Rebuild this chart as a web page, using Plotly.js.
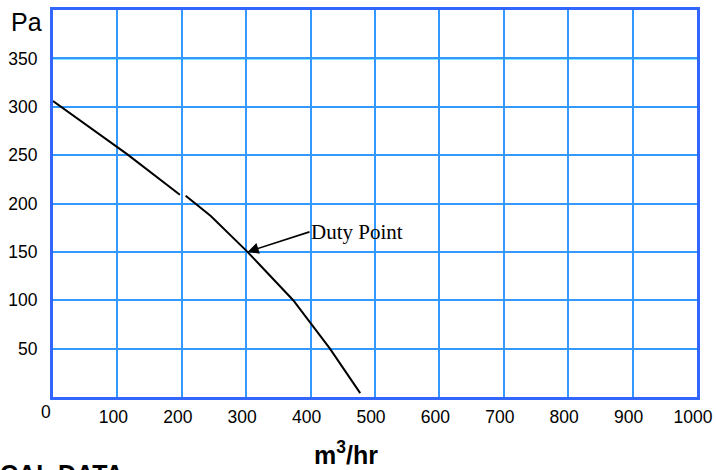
<!DOCTYPE html>
<html>
<head>
<meta charset="utf-8">
<script src="https://cdn.plot.ly/plotly-3.0.1.min.js"></script>
<style>html,body{margin:0;padding:0;background:#fff;}#chart{width:716px;height:470px;}</style>
</head>
<body>
<div id="chart"></div>
<script>
// Fan curve data (m3/hr vs Pa)
const flowA = [0, 115, 197];
const pressureA = [306, 251, 209];
const flowB = [206, 245, 302, 373, 430, 477];
const pressureB = [208, 187, 150, 100, 50, 4];
const dutyFlow = 302;
const dutyPressure = 150;
const xTicks = [100, 200, 300, 400, 500, 600, 700, 800, 900, 1000];
const yTicks = [50, 100, 150, 200, 250, 300, 350];

const lineStyle = {color: '#000000', width: 2};
const traces = [
  {x: flowA, y: pressureA, mode: 'lines', line: lineStyle, hoverinfo: 'skip', showlegend: false},
  {x: flowB, y: pressureB, mode: 'lines', line: lineStyle, hoverinfo: 'skip', showlegend: false}
];

const layout = {
  width: 716, height: 470,
  margin: {l: 53, r: 19, t: 10, b: 73},
  paper_bgcolor: '#ffffff', plot_bgcolor: '#ffffff',
  showlegend: false,
  font: {family: 'Liberation Sans, Arial, sans-serif', size: 17.5, color: '#000000'},
  xaxis: {
    range: [0, 1000], tickvals: xTicks, ticktext: xTicks.map(String),
    showgrid: true, gridcolor: '#3399FF', gridwidth: 2,
    zeroline: false, showline: true, linecolor: '#3366FF', linewidth: 3, mirror: true,
    ticks: '', ticklabelshift: -4, ticklabelstandoff: 2,
    tickfont: {size: 17.5, color: '#000000'}, fixedrange: true
  },
  yaxis: {
    range: [0, 400], tickvals: yTicks, ticktext: yTicks.map(String),
    showgrid: true, gridcolor: '#3399FF', gridwidth: 2,
    zeroline: false, showline: true, linecolor: '#3366FF', linewidth: 3, mirror: true,
    ticks: '', ticklabelstandoff: 9,
    tickfont: {size: 17.5, color: '#000000'}, fixedrange: true
  },
  shapes: [
    {type: 'line', xref: 'paper', yref: 'y', x0: 0, x1: 1, y0: 350, y1: 350,
     line: {color: '#00CCFF', width: 2}, layer: 'below'}
  ],
  annotations: [
    {x: dutyFlow, y: dutyPressure, xref: 'x', yref: 'y', text: 'Duty Point',
     showarrow: true, arrowhead: 2, arrowsize: 1.4, arrowwidth: 1.6, arrowcolor: '#000000',
     ax: 62, ay: -20, xanchor: 'left', yanchor: 'middle',
     font: {family: 'Liberation Serif, Times New Roman, serif', size: 21, color: '#000000'}},
    {xref: 'paper', yref: 'paper', x: (9-53)/644, y: (397-22)/387, text: 'Pa', showarrow: false,
     xanchor: 'left', yanchor: 'middle', font: {size: 25, color: '#000000'}},
    {xref: 'paper', yref: 'paper', x: (46-53)/644, y: (397-412)/387, text: '0', showarrow: false,
     xanchor: 'center', yanchor: 'middle', font: {size: 17.5, color: '#000000'}},
    {xref: 'paper', yref: 'paper', x: (346-53)/644, y: (397-453)/387, text: '<b>m<sup>3</sup>/hr</b>', showarrow: false,
     xanchor: 'center', yanchor: 'middle', font: {size: 25, color: '#000000'}},
    {xref: 'paper', yref: 'paper', x: (-95-53)/644, y: (397-458)/387, text: '<b>TECHNICAL DATA</b>', showarrow: false,
     xanchor: 'left', yanchor: 'top', font: {size: 25, color: '#000000'}}
  ]
};

Plotly.newPlot('chart', traces, layout, {staticPlot: true, displayModeBar: false});
</script>
</body>
</html>
